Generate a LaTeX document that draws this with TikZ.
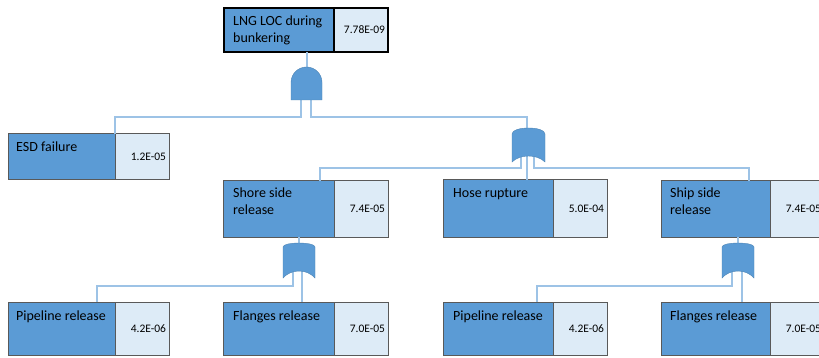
\documentclass[tikz,border=0pt]{standalone}
\usepackage{fontspec}
\setmainfont{Carlito}
\usetikzlibrary{positioning,calc}

\definecolor{evtblue}{HTML}{5B9BD5}
\definecolor{evtlight}{HTML}{DDEBF7}
\definecolor{linkblue}{HTML}{9DC3E6}
\definecolor{boxgray}{HTML}{595959}

\tikzset{
  evt/.style={draw=boxgray, line width=1pt, fill=evtblue, anchor=north west, inner sep=0pt, outer sep=0pt},
  prob/.style={draw=boxgray, line width=1pt, fill=evtlight, minimum width=54pt, inner sep=0pt, outer sep=0pt,
    text width=48pt, align=right, font=\fontsize{11.5}{13}\selectfont},
  lbl/.style={anchor=north west, inner sep=0pt, align=left, font=\fontsize{14}{16.5}\selectfont},
  gate/.style={fill=evtblue, draw=evtblue!85!black, line width=0.4pt},
  link/.style={draw=linkblue, line width=1.5pt},
}

\begin{document}
\begin{tikzpicture}[x=1pt, y=1pt]
    \useasboundingbox (0,0) rectangle (819,-358);
    \fill[white] (0,0) rectangle (819,-358);
    \clip (0,0) rectangle (819,-358);

    % Events (description + probability)
    \node[evt, draw=black, line width=1.3pt, minimum width=110pt, minimum height=44pt] (lng) at (224,-8) {};
    \node[prob, draw=black, line width=1.3pt, minimum height=44pt, right=0pt of lng] (lng-p) {7.78E-09};
    \node[lbl] (lng-t) at ([shift={(9,-8)}]lng.north west) {LNG LOC during\\bunkering};

    \node[evt, minimum width=107pt, minimum height=46pt] (esd) at (8,-134) {};
    \node[prob, minimum height=46pt, right=0pt of esd] (esd-p) {1.2E-05};
    \node[lbl] (esd-t) at ([shift={(8,-8)}]esd.north west) {ESD failure};

    \node[evt, minimum width=111pt, minimum height=56pt] (shore) at (223,-181) {};
    \node[prob, minimum height=56pt, right=0pt of shore] (shore-p) {7.4E-05};
    \node[lbl] (shore-t) at ([shift={(10,-7)}]shore.north west) {Shore side\\release};

    \node[evt, minimum width=110pt, minimum height=57pt] (hose) at (443,-180) {};
    \node[prob, minimum height=57pt, right=0pt of hose] (hose-p) {5.0E-04};
    \node[lbl] (hose-t) at ([shift={(10,-8)}]hose.north west) {Hose rupture};

    \node[evt, minimum width=109pt, minimum height=56pt] (ship) at (661,-181) {};
    \node[prob, minimum height=56pt, right=0pt of ship] (ship-p) {7.4E-05};
    \node[lbl] (ship-t) at ([shift={(9,-7)}]ship.north west) {Ship side\\release};

    \node[evt, minimum width=107pt, minimum height=53pt] (pipe1) at (8,-302) {};
    \node[prob, minimum height=53pt, right=0pt of pipe1] (pipe1-p) {4.2E-06};
    \node[lbl] (pipe1-t) at ([shift={(8,-9)}]pipe1.north west) {Pipeline release};

    \node[evt, minimum width=111pt, minimum height=53pt] (flange1) at (223,-302) {};
    \node[prob, minimum height=53pt, right=0pt of flange1] (flange1-p) {7.0E-05};
    \node[lbl] (flange1-t) at ([shift={(10,-9)}]flange1.north west) {Flanges release};

    \node[evt, minimum width=110pt, minimum height=53pt] (pipe2) at (443,-302) {};
    \node[prob, minimum height=53pt, right=0pt of pipe2] (pipe2-p) {4.2E-06};
    \node[lbl] (pipe2-t) at ([shift={(10,-9)}]pipe2.north west) {Pipeline release};

    \node[evt, minimum width=109pt, minimum height=53pt] (flange2) at (661,-302) {};
    \node[prob, minimum height=53pt, right=0pt of flange2] (flange2-p) {7.0E-05};
    \node[lbl] (flange2-t) at ([shift={(9,-9)}]flange2.north west) {Flanges release};

    % Gate ports
    \coordinate (and-in) at (307,-67);
    \coordinate (and-l) at (301,-98);
    \coordinate (and-r) at (311,-98);
    \coordinate (or1-in) at (527,-128);
    \coordinate (or1-l) at (521,-156);
    \coordinate (or1-m) at (527,-156);
    \coordinate (or1-r) at (534,-156);
    \coordinate (or2-in) at (299,-243);
    \coordinate (or2-l) at (293,-270);
    \coordinate (or2-r) at (302,-270);
    \coordinate (or3-in) at (738,-243);
    \coordinate (or3-l) at (732,-270);
    \coordinate (or3-r) at (742,-270);

    % Links
    \draw[link] (lng.south -| and-in) -- (and-in);
    \draw[link] (and-l) -- ++(0,-19) -| (esd.north east);
    \draw[link] (and-r) -- ++(0,-19) -| (or1-in);
    \draw[link] (or1-l) -- ++(0,-12) -| ($(shore.north west)+(97,0)$);
    \draw[link] (or1-m) -- (or1-m |- hose.north);
    \draw[link] (or1-r) -- ++(0,-12) -| ($(ship.north west)+(88,0)$);
    \draw[link] (shore.south -| or2-in) -- (or2-in);
    \draw[link] (or2-l) -- ++(0,-16) -| ($(pipe1.north west)+(89,0)$);
    \draw[link] (or2-r) -- (or2-r |- flange1.north);
    \draw[link] (ship.south -| or3-in) -- (or3-in);
    \draw[link] (or3-l) -- ++(0,-16) -| ($(pipe2.north west)+(94,0)$);
    \draw[link] (or3-r) -- (or3-r |- flange2.north);

    % Gates
    \path[gate] (291,-100) -- (291,-82.5) arc (180:0:15.5pt) -- (322,-100) -- cycle;
    \path[gate] (512,-162) -- (512,-134) .. controls (512,-126) and (545,-126) .. (545,-134)
        -- (545,-162) .. controls (537,-154) and (520,-154) .. (512,-162) -- cycle;
    \path[gate] (283,-278) -- (283,-247) .. controls (283,-241.7) and (315,-241.7) .. (315,-247)
        -- (315,-278) .. controls (307,-268.7) and (291,-268.7) .. (283,-278) -- cycle;
    \path[gate] (722,-278) -- (722,-247) .. controls (722,-241.7) and (754,-241.7) .. (754,-247)
        -- (754,-278) .. controls (746,-268.7) and (730,-268.7) .. (722,-278) -- cycle;
\end{tikzpicture}
\end{document}
